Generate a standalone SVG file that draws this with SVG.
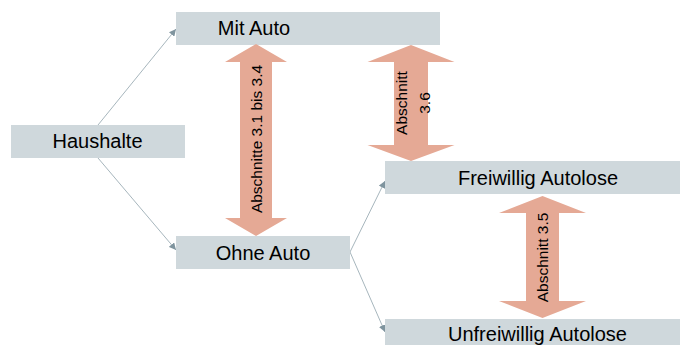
<svg xmlns="http://www.w3.org/2000/svg" width="680" height="345" viewBox="0 0 680 345">
<defs>
<style>
.box{fill:#cfd8dc}
.lbl{font-family:"Liberation Sans",Arial,sans-serif;font-size:20px;fill:#000;text-anchor:middle}
.dbl{fill:#e5a995}
.atx{font-family:"Liberation Sans",Arial,sans-serif;font-size:15.5px;fill:#000;text-anchor:middle}
.con{stroke:#a7b6bd;stroke-width:1;fill:none;marker-end:url(#ah)}
</style>
<marker id="ah" viewBox="0 0 10 10" refX="10" refY="5" markerWidth="7" markerHeight="7" markerUnits="userSpaceOnUse" orient="auto">
<path d="M0,0 L10,5 L0,10 Z" fill="#7f949e"/>
</marker>
</defs>
<rect width="680" height="345" fill="#fff"/>
<g id="connectors">
<line class="con" x1="98" y1="125" x2="176" y2="29"/>
<line class="con" x1="98" y1="158" x2="176" y2="250"/>
<line class="con" x1="350" y1="252" x2="385" y2="181"/>
<line class="con" x1="350" y1="252" x2="385" y2="332"/>
</g>
<g id="haushalte">
<rect class="box" x="11" y="125" width="174" height="33"/>
<text class="lbl" x="97.5" y="148">Haushalte</text>
</g>
<g id="mit-auto">
<rect class="box" x="176" y="12" width="264" height="33"/>
<text class="lbl" x="254" y="35">Mit Auto</text>
</g>
<g id="ohne-auto">
<rect class="box" x="176" y="236" width="174" height="33"/>
<text class="lbl" x="263" y="260">Ohne Auto</text>
</g>
<g id="freiwillig">
<rect class="box" x="385" y="161" width="295" height="33"/>
<text class="lbl" x="538" y="185">Freiwillig Autolose</text>
</g>
<g id="unfreiwillig">
<rect class="box" x="385" y="319" width="295" height="33"/>
<text class="lbl" x="537.5" y="341">Unfreiwillig Autolose</text>
</g>
<g id="arrow-31-34">
<path class="dbl" d="M256,44 L287,62 L272,62 L272,218 L287,218 L256,236 L225,218 L240,218 L240,62 L225,62 Z"/>
<text class="atx" transform="translate(262,139) rotate(-90)">Abschnitte 3.1 bis 3.4</text>
</g>
<g id="arrow-36">
<path class="dbl" d="M411,45 L454.5,62 L428,62 L428,145 L454.5,145 L411,161 L367.5,145 L394,145 L394,62 L367.5,62 Z"/>
<text class="atx" transform="translate(407,103) rotate(-90)">Abschnitt</text>
<text class="atx" transform="translate(430,103) rotate(-90)">3.6</text>
</g>
<g id="arrow-35">
<path class="dbl" d="M542.5,196 L586,213 L559,213 L559,301 L586,301 L542.5,318 L499,301 L526,301 L526,213 L499,213 Z"/>
<text class="atx" transform="translate(548,257.5) rotate(-90)">Abschnitt 3.5</text>
</g>
</svg>
